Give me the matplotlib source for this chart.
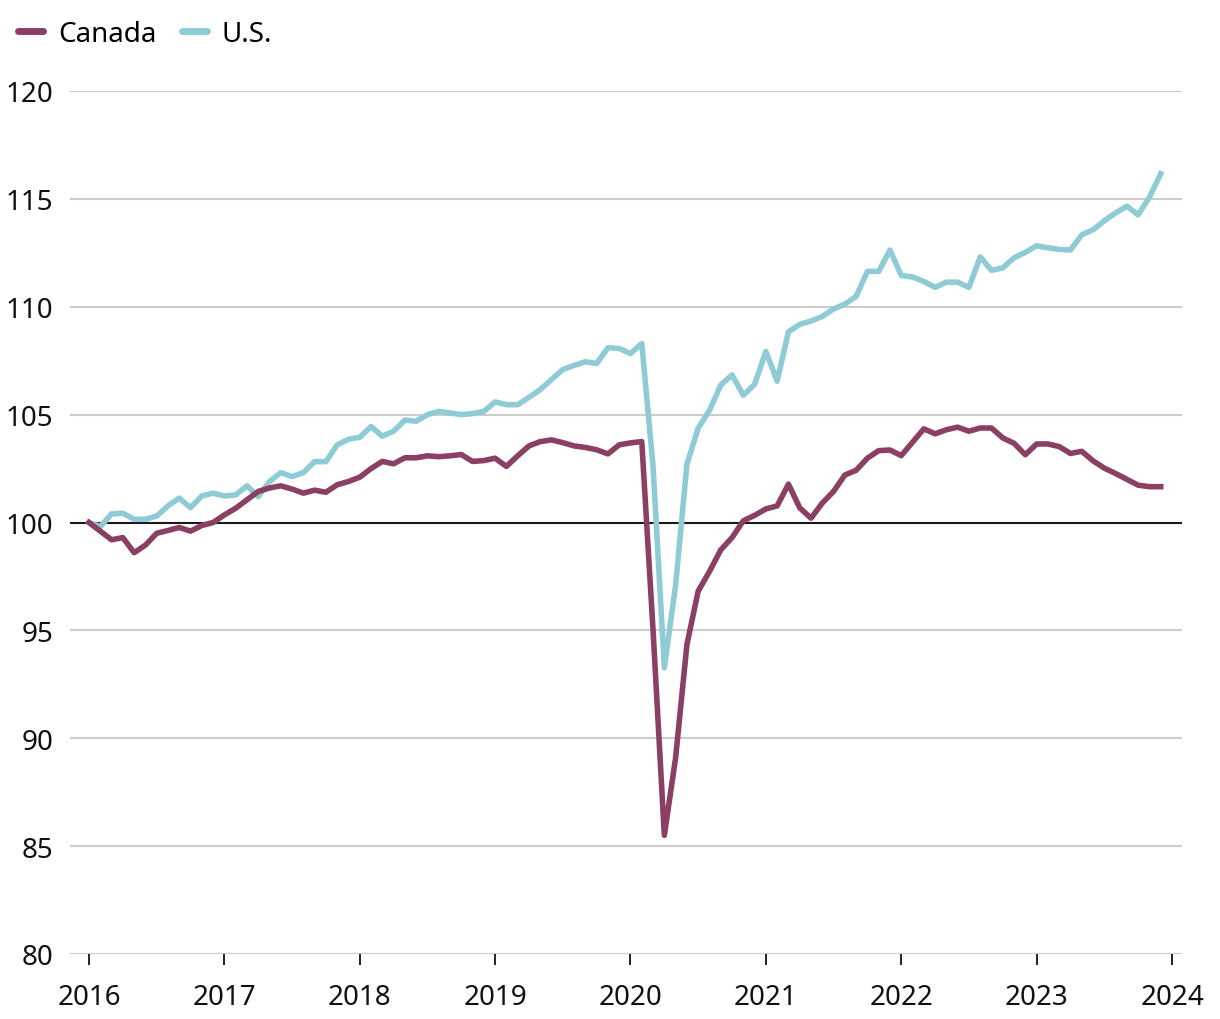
import numpy as np
import matplotlib
matplotlib.use("Agg")
import matplotlib.pyplot as plt

# monthly index, Jan 2016 = 100
start_year = 2016
canada = [
    100.0, 99.6, 99.2, 99.3, 98.6, 98.95, 99.5, 99.63, 99.77, 99.6, 99.86, 100.0,
    100.35, 100.66, 101.05, 101.44, 101.6, 101.7, 101.55, 101.36, 101.5, 101.4, 101.75, 101.9,
    102.1, 102.5, 102.83, 102.72, 103.0, 103.0, 103.09, 103.05, 103.09, 103.15, 102.83, 102.87,
    102.98, 102.6, 103.09, 103.55, 103.75, 103.83, 103.7, 103.55, 103.48, 103.37, 103.18, 103.6,
    103.69, 103.75, 95.0, 85.5, 89.1, 94.34, 96.82, 97.73, 98.73, 99.3, 100.08, 100.33,
    100.63, 100.77, 101.78, 100.68, 100.2, 100.9, 101.44, 102.2, 102.42, 102.98, 103.33, 103.36,
    103.1, 103.72, 104.34, 104.11, 104.3, 104.42, 104.23, 104.38, 104.38, 103.92, 103.67, 103.14,
    103.64, 103.64, 103.52, 103.2, 103.3, 102.86, 102.52, 102.27, 102.0, 101.73, 101.66, 101.66,
]
us = [
    100.0, 99.81, 100.4, 100.43, 100.15, 100.15, 100.3, 100.77, 101.13, 100.69, 101.23, 101.36,
    101.23, 101.28, 101.7, 101.2, 101.9, 102.31, 102.13, 102.31, 102.82, 102.82, 103.6, 103.86,
    103.95, 104.45, 104.0, 104.23, 104.75, 104.69, 105.0, 105.15, 105.08, 105.0, 105.05, 105.15,
    105.59, 105.46, 105.46, 105.8, 106.16, 106.63, 107.09, 107.28, 107.45, 107.37, 108.1, 108.07,
    107.83, 108.3, 102.6, 93.27, 97.1, 102.7, 104.37, 105.2, 106.37, 106.84, 105.9, 106.4,
    107.93, 106.55, 108.84, 109.18, 109.34, 109.55, 109.9, 110.12, 110.48, 111.64, 111.64, 112.63,
    111.45, 111.38, 111.17, 110.9, 111.14, 111.14, 110.9, 112.31, 111.69, 111.8, 112.27, 112.52,
    112.83, 112.73, 112.66, 112.63, 113.33, 113.57, 113.98, 114.35, 114.66, 114.26, 115.08, 116.16,
]
year_ticks = list(range(2016, 2025))
y_ticks = [80, 85, 90, 95, 100, 105, 110, 115, 120]

x = start_year + np.arange(len(canada)) / 12

plt.rcParams['font.family'] = ['Noto Sans', 'DejaVu Sans']

fig = plt.figure(figsize=(12.2, 10.2), dpi=100)
ax = fig.add_axes([70 / 1220, 1 - 955 / 1020, (1182 - 70) / 1220, (955 - 92) / 1020])

# grid
for yv in y_ticks:
    if yv == 100:
        ax.axhline(yv, color='#1a1a1a', lw=1.5, zorder=2)
    else:
        ax.axhline(yv, color='#cccccc', lw=1.5, zorder=1)

ax.plot(x, us, color='#8fcbd5', lw=4, label='U.S.', zorder=3)
ax.plot(x, canada, color='#8b3f62', lw=4, label='Canada', zorder=4)

ax.set_ylim(80, 120)
ax.set_xlim(2016 - 19 / 135.4, 2024 + 10 / 135.4)
ax.set_yticks(y_ticks)
ax.set_xticks(year_ticks)
ax.tick_params(axis='y', length=0, pad=12, labelsize=20, colors='#111111')
ax.tick_params(axis='x', length=8, width=1.3, color='#111111', pad=13,
               labelsize=20, labelcolor='#111111')
for s in ax.spines.values():
    s.set_visible(False)

handles, labels = ax.get_legend_handles_labels()
leg = fig.legend(handles[::-1], labels[::-1], loc='upper left', ncol=2,
                 bbox_to_anchor=(0.0, 0.997), frameon=False, fontsize=20,
                 handlelength=0.9, handletextpad=0.55, columnspacing=0.9,
                 borderaxespad=0.25)
for line in leg.get_lines():
    line.set_linewidth(5)
    line.set_solid_capstyle('round')

fig.savefig('out.png', dpi=100)
